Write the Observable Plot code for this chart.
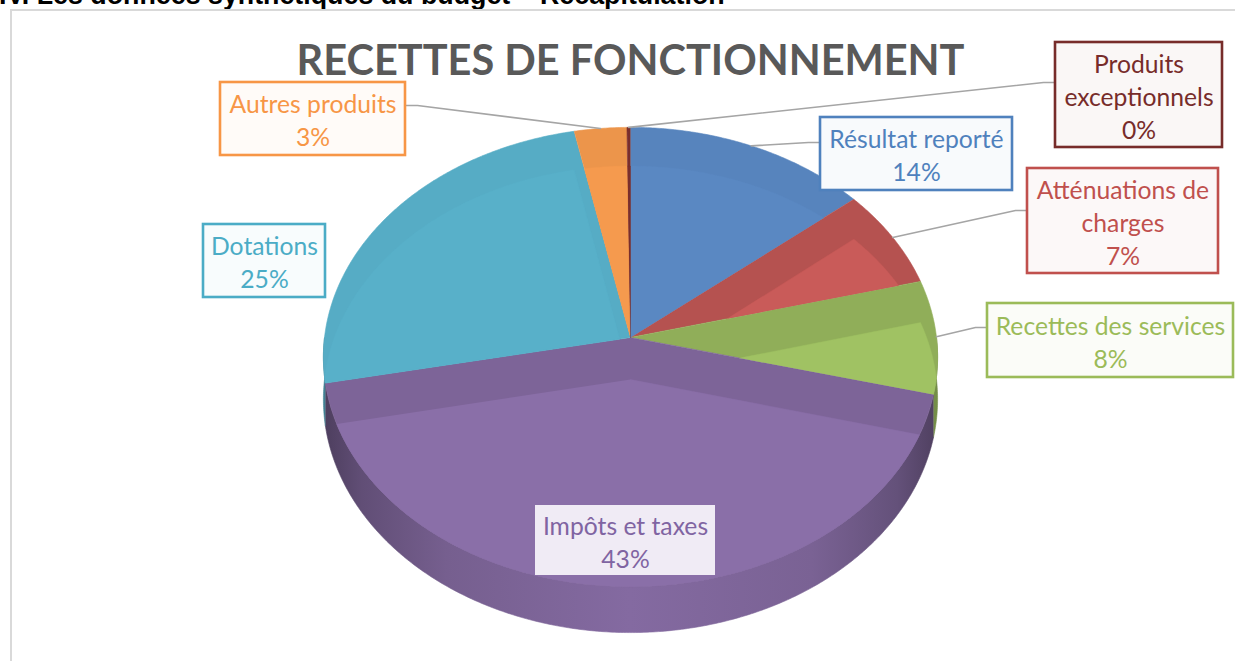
<!DOCTYPE html>
<html lang="fr"><head><meta charset="utf-8">
<script src="https://cdn.jsdelivr.net/npm/d3@7"></script>
<script src="https://cdn.jsdelivr.net/npm/@observablehq/plot@0.6"></script>
<style>
html,body{margin:0;padding:0;background:#fff;overflow:hidden}
#wrap{position:relative;width:1235px;height:661px;overflow:hidden}
#hdr{position:absolute;left:-1px;top:-18.5px;font:bold 26.8px "Liberation Sans",Arial,sans-serif;color:#000;white-space:nowrap;line-height:1}
#chart{position:absolute;left:0;top:0}
#frame{position:absolute;left:10px;top:9px;width:1240px;height:700px;border-top:2px solid #D9D9D9;border-left:2px solid #D9D9D9;pointer-events:none}
</style></head><body>
<div id="wrap">
  <div id="hdr">IV. Les données synthétiques du budget – Récapitulation</div>
  <div id="chart"></div>
  <div id="frame"></div>
</div>
<script>
// ---------- DATA ----------
const categories = ["Résultat reporté", "Atténuations de charges", "Recettes des services", "Impôts et taxes", "Dotations", "Autres produits", "Produits exceptionnels"];
const values = [14, 7, 8, 43, 25, 3, 0.2];
const percentLabels = ["14%", "7%", "8%", "43%", "25%", "3%", "0%"];
const chartTitle = "RECETTES DE FONCTIONNEMENT";

// ---------- STYLE / LAYOUT ----------
const sliceColors = ["#5A88C2", "#C95B59", "#A0C263", "#8A6FA8", "#58B0C9", "#F59A4E", "#7A2E2C"];
const bevelShade  = [0.08, 0.3, 0.3, 0.28, 0.06, 0.1, 0];
const textColors  = ["#4F81BD", "#C0504D", "#9BBB59", "#8064A2", "#4BACC6", "#F79646", "#772C2A"];
const labelLayout = {
  "Résultat reporté":        {x1: 820,  x2: 1012, y1: 117, y2: 190, ay: 142, wrap: "Résultat reporté"},
  "Atténuations de charges": {x1: 1027, x2: 1218, y1: 168, y2: 273, ay: 210, wrap: "Atténuations de\ncharges"},
  "Recettes des services":   {x1: 987,  x2: 1233, y1: 303, y2: 377, ay: 327, wrap: "Recettes des services"},
  "Impôts et taxes":         {x1: 535,  x2: 715,  y1: 505, y2: 575, ay: null, wrap: "Impôts et taxes", plain: true},
  "Dotations":               {x1: 203,  x2: 325,  y1: 224, y2: 297, ay: null, wrap: "Dotations"},
  "Autres produits":         {x1: 220,  x2: 405,  y1: 82,  y2: 155, ay: 105, wrap: "Autres produits"},
  "Produits exceptionnels":  {x1: 1055, x2: 1222, y1: 42,  y2: 147, ay: 82,  wrap: "Produits\nexceptionnels"}
};
const W = 1235, H = 661;
const PIE = {cx: 630, cy: 337, A: 306, B: 228, K: 0.085, T: 42};
const FONT = "Lato, 'Open Sans', sans-serif";

// ---------- GEOMETRY (perspective 3-D pie) ----------
function proj(X, Y, z) {
  const w = 1 + PIE.K * Y;
  return [PIE.cx + PIE.A * X / w, PIE.cy - PIE.B * Y / w + z * PIE.T / w];
}
function arcPts(a0, a1, z) {
  const n = Math.max(2, Math.ceil((a1 - a0) / (Math.PI / 360)));
  return d3.range(n + 1).map(i => {
    const a = a0 + (a1 - a0) * i / n;
    return proj(Math.sin(a), Math.cos(a), z);
  });
}
function slicePoly(a0, a1, z) { return [proj(0, 0, z), ...arcPts(a0, a1, z)]; }
function shoelace(p) { let s = 0; for (let i = 0; i < p.length; i++) { const a = p[i], b = p[(i + 1) % p.length]; s += a[0] * b[1] - b[0] * a[1]; } return s; }
function clipPoly(subject, clip) {
  const sg = Math.sign(shoelace(clip));
  let out = subject;
  for (let i = 0; i < clip.length && out.length; i++) {
    const a = clip[i], b = clip[(i + 1) % clip.length];
    const side = p => ((b[0] - a[0]) * (p[1] - a[1]) - (b[1] - a[1]) * (p[0] - a[0])) * sg;
    const inp = out; out = [];
    for (let j = 0; j < inp.length; j++) {
      const p = inp[j], q = inp[(j + 1) % inp.length];
      const sp = side(p), sq = side(q);
      if (sp >= 0) out.push(p);
      if ((sp >= 0) !== (sq >= 0)) {
        const t = sp / (sp - sq);
        out.push([p[0] + (q[0] - p[0]) * t, p[1] + (q[1] - p[1]) * t]);
      }
    }
  }
  return out;
}

const arcs = d3.pie().sort(null).value(d => d)(values);
const baseRows = [], innerRows = [], walls = [];
arcs.forEach((a, i) => {
  const col = d3.color(sliceColors[i]);
  const top = slicePoly(a.startAngle, a.endAngle, 0);
  top.forEach(p => baseRows.push({id: i, x: p[0], y: p[1], c: col.darker(bevelShade[i]).formatHex()}));
  const inner = clipPoly(slicePoly(a.startAngle, a.endAngle, 1), top);
  inner.forEach(p => innerRows.push({id: i, x: p[0], y: p[1], c: col.formatHex()}));
  const s = Math.max(a.startAngle, Math.PI / 2), e = Math.min(a.endAngle, 3 * Math.PI / 2);
  if (e > s) {
    const pts = [...arcPts(s, e, 0), ...arcPts(s, e, 1).reverse()];
    walls.push({i, pts});
  }
});

const leaderRows = [], boxes = [];
arcs.forEach((a, i) => {
  const L = labelLayout[categories[i]];
  boxes.push({
    x1: L.x1, x2: L.x2, y1: L.y1, y2: L.y2,
    mx: (L.x1 + L.x2) / 2, my: (L.y1 + L.y2) / 2,
    txt: L.wrap + "\n" + percentLabels[i],
    c: textColors[i], plain: !!L.plain,
    bg: L.plain ? "#F4F0F8" : d3.interpolateRgb("#ffffff", textColors[i])(0.04)
  });
  if (L.ay != null) {
    const mid = (a.startAngle + a.endAngle) / 2;
    const p = proj(Math.sin(mid), Math.cos(mid), 0);
    const right = (L.x1 + L.x2) / 2 > PIE.cx;
    const bx = right ? L.x1 : L.x2;
    const ex = right ? bx - 12 : bx + 12;
    [[p[0], p[1]], [ex, L.ay], [bx, L.ay]].forEach(q => leaderRows.push({id: i, x: q[0], y: q[1]}));
  }
});

const chart = Plot.plot({
  width: W, height: H, margin: 0,
  x: {domain: [0, W], range: [0, W], axis: null},
  y: {domain: [0, H], range: [0, H], axis: null},
  color: {type: "identity"},
  style: {background: "transparent", overflow: "visible"},
  marks: [
    ...walls.map(w => Plot.line(w.pts, {x: d => d[0], y: d => d[1], fill: `url(#wall${w.i})`, stroke: `url(#wall${w.i})`, strokeWidth: 0.6})),
    Plot.line(baseRows, {x: "x", y: "y", z: "id", fill: "c", stroke: "c", strokeWidth: 0.6}),
    Plot.line(innerRows, {x: "x", y: "y", z: "id", fill: "c", stroke: "c", strokeWidth: 0.4}),
    Plot.line(leaderRows, {x: "x", y: "y", z: "id", stroke: "#A5A5A5", strokeWidth: 1.6}),
    Plot.rect(boxes.filter(b => !b.plain), {x1: "x1", x2: "x2", y1: "y1", y2: "y2", fill: "bg", stroke: "c", strokeWidth: 2.6, ariaLabel: "label-box"}),
    Plot.rect(boxes.filter(b => b.plain), {x1: "x1", x2: "x2", y1: "y1", y2: "y2", fill: "bg", fillOpacity: 0.97}),
    Plot.text(boxes, {x: "mx", y: "my", text: "txt", fill: "c", fontSize: 24.7, lineHeight: 1.34, fontFamily: FONT}),
    Plot.text([chartTitle], {x: PIE.cx, y: 61, text: d => d, fill: "#595959", fontSize: 41.5, fontWeight: "bold", fontFamily: FONT, ariaLabel: "chart-title"})
  ]
});

const svg = d3.select(chart);
const defs = svg.insert("defs", ":first-child");
walls.forEach(w => {
  const c = d3.color(sliceColors[w.i]);
  const g = defs.append("linearGradient").attr("id", "wall" + w.i).attr("x1", 0).attr("x2", 1).attr("y1", 0).attr("y2", 0);
  const stops = w.i === 3
    ? [[0, 1.6], [0.06, 1.0], [0.2, 0.45], [0.5, 0.12], [0.8, 0.35], [0.94, 0.9], [1, 1.5]]
    : [[0, 0.9], [1, 0.9]];
  stops.forEach(([o, k]) => g.append("stop").attr("offset", o).attr("stop-color", c.darker(k).formatHex()));
});
svg.selectAll('g[aria-label="label-box"] rect').style("filter", "drop-shadow(2px 3px 3px rgba(0,0,0,0.28))");
svg.selectAll('g[aria-label="chart-title"] text').style("letter-spacing", "-1.2px");
document.getElementById("chart").appendChild(chart);
</script>
</body></html>
